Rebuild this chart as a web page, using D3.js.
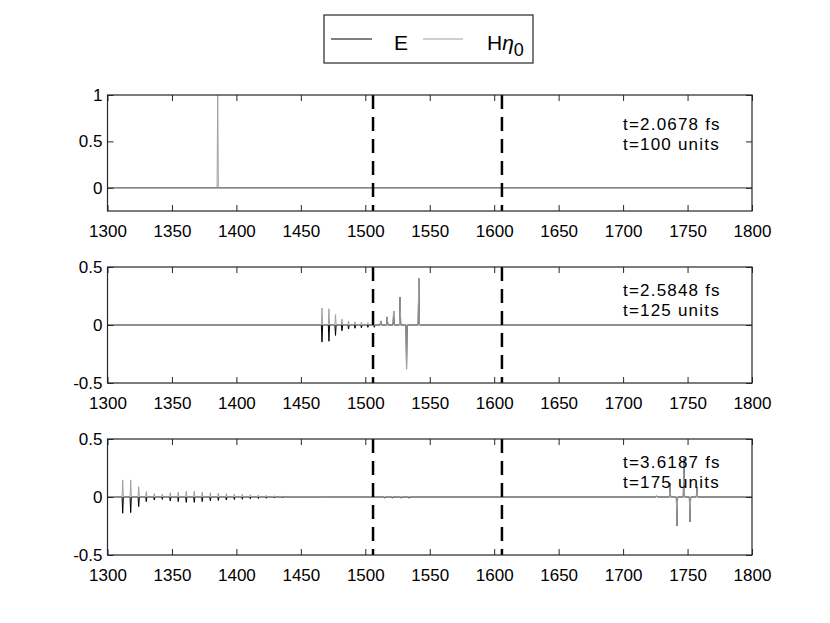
<!DOCTYPE html>
<html><head><meta charset="utf-8">
<script src="https://cdn.jsdelivr.net/npm/d3@7"></script>
<style>body{margin:0;background:#fff}text{font-family:"Liberation Sans",Arial,Helvetica,sans-serif;fill:#000}</style>
</head><body>
<svg id="c" width="830" height="623"></svg>
<script>
// ---------- data ----------
const xTicks = [1300,1350,1400,1450,1500,1550,1600,1650,1700,1750,1800];
const yTicksTop = [0,0.5,1];
const yTicksLow = [-0.5,0,0.5];
const interfaces = [1506,1606];
const timeFs = ["t=2.0678 fs","t=2.5848 fs","t=3.6187 fs"];
const timeUnits = ["t=100 units","t=125 units","t=175 units"];

// panel 1 (t=100)
const p1X = [1385.5];
const p1E = [0];
const p1H = [1];

// panel 2 (t=125)
const p2X = [1466.4,1471.8,1476.9,1481.9,1487,1492,1497,1502,1507,1512,1517,1522,1527,1532,1541.5];
const p2E = [-0.147,-0.14,-0.09,-0.05,-0.035,-0.028,-0.025,-0.02,-0.02,0.035,0.07,0.12,0.24,-0.38,0.40];
const p2H = [0.147,0.14,0.09,0.05,0.035,0.028,0.025,0.02,0,0.035,0.07,0.12,0.24,-0.38,0.40];

// panel 3 (t=175)
const p3X = [1311.8,1318.0,1324.2,1330.1,1336.3,1342.5,1348.7,1354.9,1361.1,1367.3,1373.5,1379.8,1386.0,1392.2,1398.4,1404.6,1410.8,1417.0,1423.2,1429.4,1435.6,1441.8,1448.0,1454.2,1460.4,1466.6,
             1515,1521,1528,1534,
             1726,1736.4,1741.8,1747.2,1751.9,1757.3];
const p3E = [-0.14,-0.135,-0.083,-0.04,-0.026,-0.02,-0.034,-0.04,-0.046,-0.046,-0.04,-0.034,-0.03,-0.026,-0.022,-0.019,-0.016,-0.013,-0.011,-0.008,-0.006,-0.004,-0.004,-0.003,-0.003,-0.002,
             -0.01,-0.01,-0.01,-0.01,
             0.01,0.12,-0.25,0.33,-0.215,0.086];
const p3H = [0.147,0.147,0.089,0.046,0.03,0.025,0.037,0.043,0.049,0.049,0.043,0.037,0.034,0.03,0.026,0.023,0.02,0.017,0.014,0.011,0.009,0.006,0.006,0.005,0.004,0.003,
             0,0,0,0,
             0.01,0.12,-0.25,0.33,-0.215,0.086];

const panels = [
  {X:p1X,E:p1E,H:p1H,dom:[-0.25,1],ticks:yTicksTop,top:95,txtY:[130,150]},
  {X:p2X,E:p2E,H:p2H,dom:[-0.5,0.5],ticks:yTicksLow,top:267,txtY:[296,316]},
  {X:p3X,E:p3E,H:p3H,dom:[-0.5,0.5],ticks:yTicksLow,top:439,txtY:[468,488]}
];

// ---------- drawing ----------
const svg = d3.select("#c");
const L = 107.5, R = 752, PH = 116;
const axisCol = "#262626";
const x = d3.scaleLinear().domain([1300,1800]).range([L,R]);
const fmt = v => String(v);

function series(X, V){
  const pts = [[1300,0]];
  const idx = d3.range(X.length).sort((a,b)=>X[a]-X[b]);
  idx.forEach(i=>{ if(V[i]!==0){ pts.push([X[i]-0.5,0],[X[i],V[i]],[X[i]+0.5,0]); } });
  pts.push([1800,0]);
  return pts;
}

panels.forEach((p,pi)=>{
  const y = d3.scaleLinear().domain(p.dom).range([p.top+PH,p.top]);
  const g = svg.append("g");
  const line = d3.line().x(d=>x(d[0])).y(d=>y(d[1]));
  g.append("path").attr("d",line(series(p.X,p.E))).attr("fill","none").attr("stroke","#000").attr("stroke-width",1);
  g.append("path").attr("d",line(series(p.X,p.H))).attr("fill","none").attr("stroke","#a0a0a0").attr("stroke-width",1);

  // interfaces
  g.selectAll("line.iface").data(interfaces).enter().append("line")
    .attr("x1",d=>x(d)).attr("x2",d=>x(d)).attr("y1",p.top).attr("y2",p.top+PH)
    .attr("stroke","#000").attr("stroke-width",2.5).attr("stroke-dasharray","14,8");

  // axes (ticks inward on all sides)
  const ax = g.append("g");
  ax.append("g").attr("transform",`translate(0,${p.top+PH})`)
    .call(d3.axisBottom(x).tickValues(xTicks).tickSizeInner(-6).tickSizeOuter(0).tickPadding(14).tickFormat(fmt));
  ax.append("g").attr("transform",`translate(0,${p.top})`)
    .call(d3.axisTop(x).tickValues(xTicks).tickSizeInner(-6).tickSizeOuter(0).tickFormat(""));
  ax.append("g").attr("transform",`translate(${L},0)`)
    .call(d3.axisLeft(y).tickValues(p.ticks).tickSizeInner(-6).tickSizeOuter(0).tickPadding(5).tickFormat(fmt));
  ax.append("g").attr("transform",`translate(${R},0)`)
    .call(d3.axisRight(y).tickValues(p.ticks).tickSizeInner(-6).tickSizeOuter(0).tickFormat(""));
  ax.selectAll(".domain").remove();
  ax.selectAll(".tick line").attr("stroke",axisCol).attr("stroke-width",1);
  ax.selectAll(".tick text").attr("font-size",17).attr("fill","#000");
  g.append("rect").attr("x",L).attr("y",p.top).attr("width",R-L).attr("height",PH)
    .attr("fill","none").attr("stroke",axisCol).attr("stroke-width",1.2);

  // annotation
  [timeFs[pi],timeUnits[pi]].forEach((t,k)=>{
    g.append("text").attr("x",623).attr("y",p.txtY[k]).attr("font-size",17)
      .attr("letter-spacing","1.2px").text(t);
  });
});

// legend
const lg = svg.append("g");
lg.append("rect").attr("x",324).attr("y",15).attr("width",209).attr("height",48)
  .attr("fill","#fff").attr("stroke",axisCol).attr("stroke-width",1.2);
lg.append("line").attr("x1",331).attr("x2",372).attr("y1",39).attr("y2",39).attr("stroke","#000").attr("stroke-width",1);
lg.append("text").attr("x",394).attr("y",49.5).attr("font-size",21).text("E");
lg.append("line").attr("x1",423).attr("x2",463).attr("y1",39).attr("y2",39).attr("stroke","#a0a0a0").attr("stroke-width",1);
const ht = lg.append("text").attr("x",487).attr("y",49.5).attr("font-size",21);
ht.append("tspan").text("H");
ht.append("tspan").attr("font-style","italic").text("η");
ht.append("tspan").attr("font-size",18).attr("dy",6).text("0");
</script>
</body></html>
